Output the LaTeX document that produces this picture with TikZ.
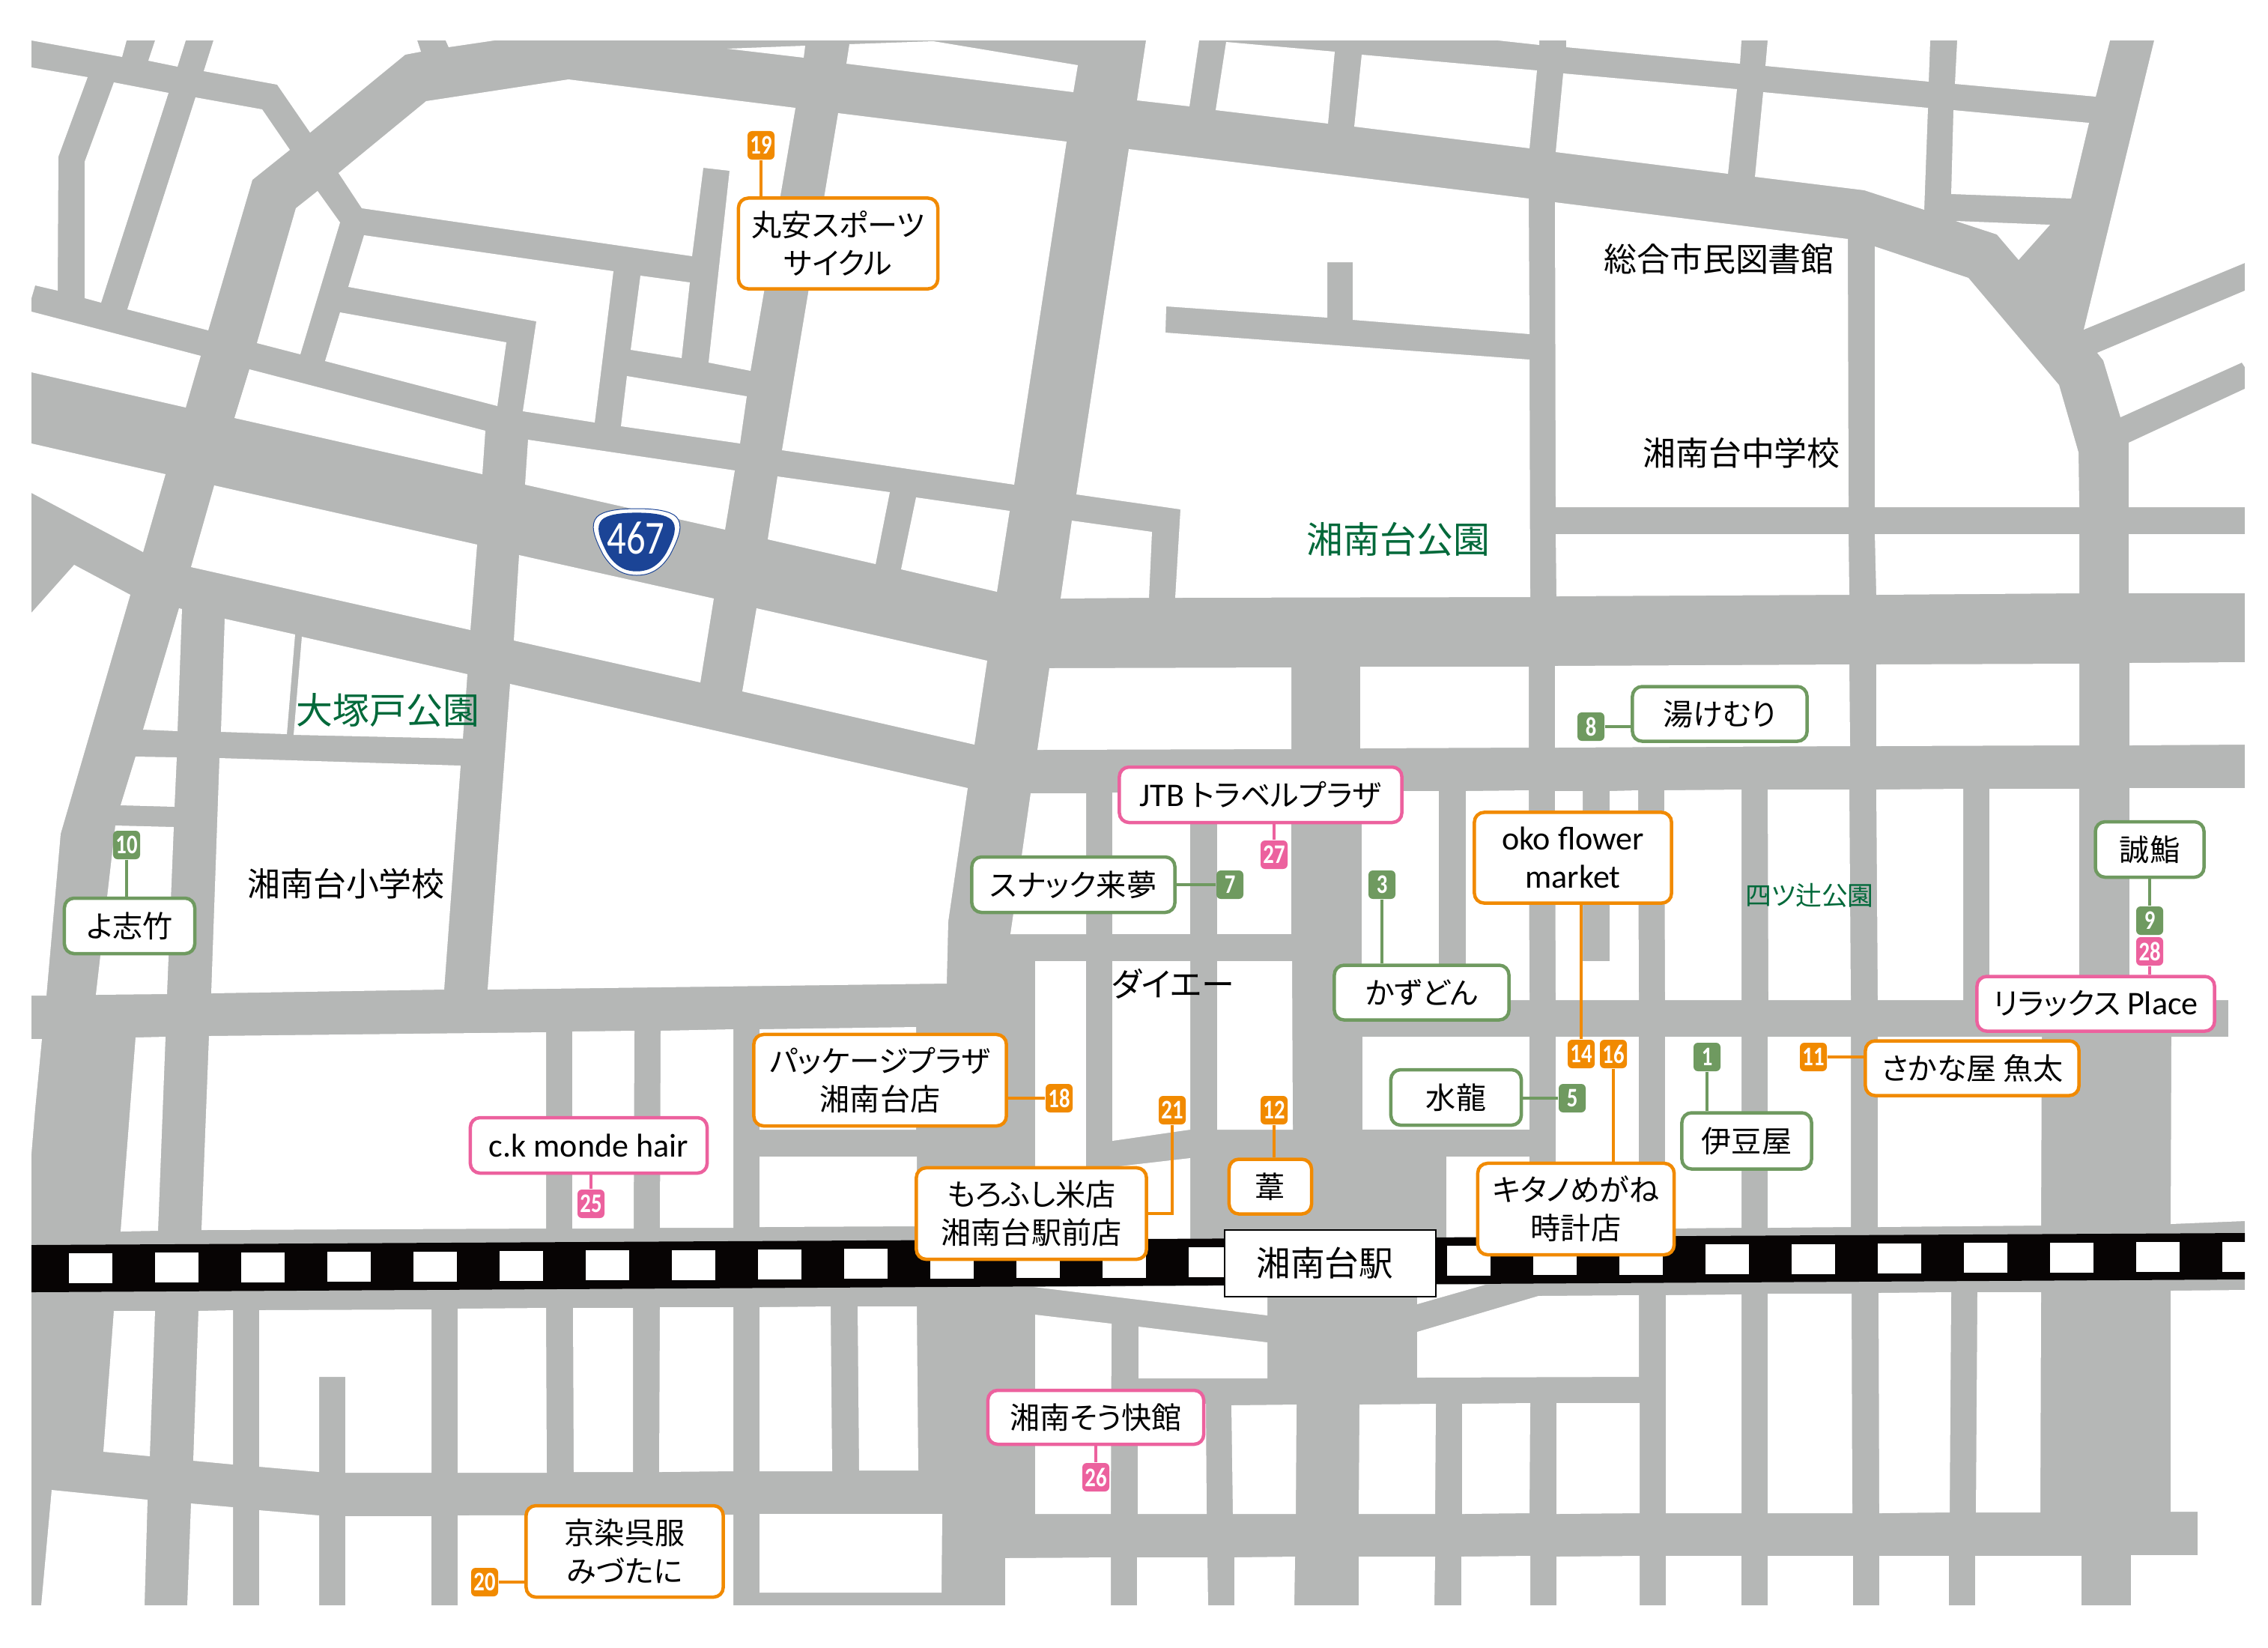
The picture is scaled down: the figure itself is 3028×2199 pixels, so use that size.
\documentclass[tikz,border=0pt]{standalone}
\usepackage{fontspec}
\setmainfont[RawFeature=+palt]{Noto Sans CJK JP}
\newfontfamily\lat[Scale=1.1]{Carlito}
\newfontfamily\numfont[FakeStretch=0.8]{Carlito}
\definecolor{roadgray}{HTML}{B5B7B6}
\definecolor{railblack}{HTML}{070404}
\definecolor{shoporange}{HTML}{F18A00}
\definecolor{shopgreen}{HTML}{6F9A60}
\definecolor{shoppink}{HTML}{EC619E}
\definecolor{parkgreen}{HTML}{00693A}
\definecolor{routeblue}{HTML}{1B4496}
\tikzset{
  block/.style={fill=white},
  shopbox/.style={draw, fill=white, rounded corners=0.13cm, line width=0.045cm, align=center, inner sep=0pt, font=\fontsize{11.4pt}{14.5pt}\selectfont},
  badge/.style={rounded corners=0.06cm, minimum width=0.36cm, minimum height=0.38cm, inner sep=0pt, text=white, font=\numfont\bfseries\fontsize{10.2pt}{10.5pt}\selectfont},
  orangebox/.style={shopbox, draw=shoporange},
  greenbox/.style={shopbox, draw=shopgreen},
  pinkbox/.style={shopbox, draw=shoppink},
  orangenum/.style={badge, fill=shoporange},
  greennum/.style={badge, fill=shopgreen},
  pinknum/.style={badge, fill=shoppink},
  orangelink/.style={draw=shoporange, line width=0.035cm},
  greenlink/.style={draw=shopgreen, line width=0.035cm},
  pinklink/.style={draw=shoppink, line width=0.035cm},
  landmark/.style={inner sep=0pt, font=\fontsize{12.5pt}{14pt}\selectfont},
  parkname/.style={inner sep=0pt, text=parkgreen, font=\fontsize{13.9pt}{15pt}\selectfont}
}
\newcommand{\shieldpath}{(850,679) .. controls (875,679) and (895,682) .. (903,690) .. controls (912,700) and (908,715) .. (895,740) .. controls (880,765) and (862,768) .. (850,768) .. controls (838,768) and (820,765) .. (805,740) .. controls (792,715) and (788,700) .. (797,690) .. controls (805,682) and (825,679) .. (850,679) -- cycle}
\begin{document}
\begin{tikzpicture}[x=0.01cm, y=-0.01cm]
    \useasboundingbox (0,0) rectangle (3028,2199);
    \fill[roadgray] (42,54) rectangle (2997,2143);
    % top edge
    \fill[block] (42,54) -- (163,76) -- (169,54) -- cycle;
    \fill[block] (207,54) -- (198,81) -- (237,89) -- (248,54) -- cycle;
    \fill[block] (285,54) -- (272,95) -- (370,113) -- (414,177) -- (541,73) -- (562,69) -- (557,54) -- cycle;
    \fill[block] (599,63) -- (660,54) -- (595,54) -- cycle;
    \fill[block] (971,65) -- (1075,61) -- (1073,77) -- cycle;
    \fill[block] (1134,59) -- (1246,55) -- (1439,87) -- (1433,123) -- (1130,85) -- cycle;
    \fill[block] (1530,54) -- (1518,134) -- (1588,142) -- (1601,54) -- cycle;
    \fill[block] (1637,56) -- (1782,69) -- (1773,165) -- (1623,147) -- cycle;
    \fill[block] (1818,73) -- (2052,94) -- (2042,198) -- (1808,169) -- cycle;
    \fill[block] (2000,54) -- (2055,60) -- (2055,54) -- cycle;
    \fill[block] (2091,54) -- (2091,63) -- (2323,85) -- (2325,54) -- cycle;
    \fill[block] (2360,54) -- (2357,88) -- (2575,109) -- (2577,54) -- cycle;
    \fill[block] (2613,54) -- (2610,112) -- (2798,129) -- (2817,54) -- cycle;
    \fill[block] (2087,98) -- (2319,119) -- (2307,232) -- (2077,203) -- cycle;
    \fill[block] (2354,123) -- (2574,144) -- (2569,280) -- (2489,254) -- (2343,236) -- cycle;
    \fill[block] (2608,147) -- (2789,164) -- (2765,265) -- (2605,259) -- cycle;
    \fill[block] (2611,295) -- (2737,300) -- (2695,347) -- (2666,313) -- cycle;
    \fill[block] (2876,54) -- (2782,440) -- (2997,351) -- (2997,54) -- cycle;
    \fill[block] (2800,471) -- (2808,481) -- (2831,557) -- (2993,484) -- (2997,490) -- (2997,388) -- cycle;
    \fill[block] (2842,591) -- (2997,519) -- (2997,677) -- (2842,677) -- cycle;
    \fill[block] (2503,329) -- (2628,371) -- (2749,514) -- (2775,604) -- (2776,677) -- (2503,677) -- cycle;
    \fill[block] (2076,270) -- (2467,319) -- (2468,677) -- (2077,677) -- cycle;
    % upper left
    \fill[block] (42,90) -- (117,103) -- (78,209) -- (77,388) -- (47,381) -- (42,398) -- cycle;
    \fill[block] (152,110) -- (225,124) -- (135,404) -- (113,398) -- (113,216) -- cycle;
    \fill[block] (261,130) -- (350,146) -- (387,200) -- (337,240) -- (278,441) -- (170,413) -- cycle;
    \fill[block] (395,278) -- (424,255) -- (454,297) -- (401,473) -- (343,458) -- cycle;
    \fill[block] (569,135) -- (759,106) -- (1062,144) -- (1002,495) -- (946,484) -- (974,228) -- (939,224) -- (924,342) -- (483,278) -- (452,231) -- cycle;
    \fill[block] (486,314) -- (819,362) -- (794,564) -- (698,549) -- (716,429) -- (465,383) -- cycle;
    \fill[block] (454,417) -- (676,457) -- (664,542) -- (434,482) -- cycle;
    \fill[block] (855,368) -- (921,377) -- (910,478) -- (842,467) -- cycle;
    \fill[block] (837,502) -- (997,529) -- (988,592) -- (829,569) -- cycle;
    \fill[block] (705,587) -- (981,628) -- (968,707) -- (701,647) -- cycle;
    \fill[block] (42,416) -- (268,475) -- (248,544) -- (42,497) -- cycle;
    \fill[block] (333,493) -- (648,575) -- (644,633) -- (313,558) -- cycle;
    \fill[block] (42,592) -- (221,633) -- (191,737) -- (42,658) -- cycle;
    \fill[block] (42,818) -- (99,754) -- (174,794) -- (81,1113) -- (62,1329) -- (42,1329) -- cycle;
    \fill[block] (42,1387) -- (56,1387) -- (47,1480) -- (42,1540) -- cycle;
    \fill[block] (286,648) -- (637,727) -- (628,841) -- (255,757) -- cycle;
    \fill[block] (693,741) -- (953,799) -- (935,911) -- (686,855) -- cycle;
    \fill[block] (1038,636) -- (1188,657) -- (1169,753) -- (1025,720) -- cycle;
    \fill[block] (1223,664) -- (1348,682) -- (1331,790) -- (1203,760) -- cycle;
    \fill[block] (1119,151) -- (1424,189) -- (1354,647) -- (1044,601) -- cycle;
    \fill[block] (1431,695) -- (1538,710) -- (1534,798) -- (1416,799) -- cycle;
    \fill[block] (1507,199) -- (2041,265) -- (2042,446) -- (1806,427) -- (1806,350) -- (1772,350) -- (1772,424) -- (1557,409) -- (1556,444) -- (2042,480) -- (2043,797) -- (1569,798) -- (1576,680) -- (1437,660) -- cycle;
    % right of the park
    \fill[block] (2077,713) -- (2468,713) -- (2469,794) -- (2078,796) -- cycle;
    \fill[block] (2503,713) -- (2776,713) -- (2776,792) -- (2505,794) -- cycle;
    \fill[block] (2842,713) -- (2997,713) -- (2997,792) -- (2842,792) -- cycle;
    \fill[block] (1401,892) -- (1724,891) -- (1724,1000) -- (1385,1001) -- cycle;
    \fill[block] (1816,890) -- (2041,890) -- (2041,998) -- (1816,999) -- cycle;
    \fill[block] (2076,889) -- (2469,887) -- (2470,996) -- (2076,998) -- cycle;
    \fill[block] (2505,887) -- (2776,886) -- (2776,995) -- (2505,996) -- cycle;
    \fill[block] (2843,885) -- (2997,884) -- (2997,994) -- (2843,995) -- cycle;
    % school area
    \fill[block] (1010,812) -- (1318,882) -- (1301,994) -- (991,923) -- cycle;
    \fill[block] (681,913) -- (1292,1052) -- (1266,1230) -- (1264,1313) -- (651,1321) -- cycle;
    \fill[block] (293,1012) -- (615,1022) -- (593,1321) -- (282,1326) -- cycle;
    \fill[block] (300,826) -- (394,847) -- (383,980) -- (295,977) -- cycle;
    \fill[block] (403,850) -- (624,900) -- (618,986) -- (392,981) -- cycle;
    \fill[block] (239,812) -- (243,813) -- (237,976) -- (191,974) -- cycle;
    \fill[block] (181,1010) -- (236,1011) -- (233,1077) -- (161,1075) -- cycle;
    \fill[block] (154,1102) -- (232,1104) -- (223,1327) -- (128,1328) -- cycle;
    % above the rail
    \fill[block] (181,1385) -- (221,1384) -- (211,1643) -- (161,1644) -- cycle;
    \fill[block] (279,1383) -- (729,1378) -- (729,1640) -- (269,1642) -- cycle;
    \fill[block] (764,1377) -- (847,1376) -- (846,1640) -- (764,1640) -- cycle;
    \fill[block] (882,1376) -- (979,1374) -- (979,1639) -- (881,1639) -- cycle;
    \fill[block] (1014,1374) -- (1223,1371) -- (1223,1508) -- (1014,1508) -- cycle;
    \fill[block] (1014,1544) -- (1224,1544) -- (1224,1637) -- (1014,1638) -- cycle;
    \fill[block] (1382,1283) -- (1450,1283) -- (1450,1638) -- (1382,1638) -- cycle;
    \fill[block] (1485,1283) -- (1589,1283) -- (1589,1508) -- (1485,1523) -- cycle;
    \fill[block] (1625,1283) -- (1725,1283) -- (1726,1508) -- (1625,1508) -- cycle;
    \fill[block] (1485,1558) -- (1589,1546) -- (1589,1660) -- (1485,1660) -- cycle;
    \fill[block] (1819,1384) -- (2042,1384) -- (2042,1508) -- (1819,1508) -- cycle;
    \fill[block] (1931,1544) -- (2042,1544) -- (2042,1660) -- (1931,1660) -- cycle;
    \fill[block] (1376,1059) -- (1450,1059) -- (1450,1247) -- (1349,1247) -- cycle;
    \fill[block] (1485,1058) -- (1589,1058) -- (1589,1247) -- (1485,1247) -- cycle;
    \fill[block] (1625,1057) -- (1724,1057) -- (1724,1247) -- (1625,1247) -- cycle;
    \fill[block] (1818,1056) -- (1921,1056) -- (1921,1335) -- (1818,1335) -- cycle;
    \fill[block] (1957,1056) -- (2041,1055) -- (2042,1335) -- (1957,1335) -- cycle;
    \fill[block] (2076,1056) -- (2113,1056) -- (2113,1283) -- (2149,1283) -- (2149,1056) -- (2187,1055) -- (2188,1335) -- (2077,1335) -- cycle;
    \fill[block] (2222,1055) -- (2325,1054) -- (2325,1335) -- (2223,1335) -- cycle;
    \fill[block] (2360,1054) -- (2469,1054) -- (2471,1335) -- (2361,1335) -- cycle;
    \fill[block] (2505,1054) -- (2621,1053) -- (2621,1335) -- (2507,1335) -- cycle;
    \fill[block] (2656,1053) -- (2776,1053) -- (2776,1335) -- (2656,1335) -- cycle;
    \fill[block] (2843,1052) -- (2997,1052) -- (2997,1630) -- (2898,1634) -- (2899,1384) -- (2975,1384) -- (2975,1335) -- (2843,1335) -- cycle;
    \fill[block] (2077,1384) -- (2188,1384) -- (2188,1640) -- (2077,1640) -- cycle;
    \fill[block] (2223,1384) -- (2325,1384) -- (2325,1639) -- (2223,1640) -- cycle;
    \fill[block] (2360,1384) -- (2471,1384) -- (2471,1638) -- (2360,1639) -- cycle;
    \fill[block] (2507,1384) -- (2726,1384) -- (2725,1636) -- (2507,1638) -- cycle;
    % below the rail
    \fill[block] (1892,1741) -- (1983,1715) -- (1892,1715) -- cycle;
    \fill[block] (1892,1778) -- (2054,1730) -- (2188,1729) -- (2188,1838) -- (1892,1839) -- cycle;
    \fill[block] (2224,1729) -- (2325,1728) -- (2325,2020) -- (2224,2020) -- cycle;
    \fill[block] (2360,1727) -- (2472,1727) -- (2473,2020) -- (2360,2020) -- cycle;
    \fill[block] (2508,1726) -- (2605,1725) -- (2603,2019) -- (2509,2020) -- cycle;
    \fill[block] (2640,1725) -- (2725,1725) -- (2724,2019) -- (2638,2019) -- cycle;
    \fill[block] (2898,1723) -- (2997,1722) -- (2997,2143) -- (2845,2143) -- (2845,2076) -- (2934,2076) -- (2934,2018) -- (2898,2018) -- cycle;
    \fill[block] (2078,1873) -- (2189,1873) -- (2189,2020) -- (2078,2021) -- cycle;
    \fill[block] (1952,1874) -- (2043,1873) -- (2042,2020) -- (1952,2021) -- cycle;
    \fill[block] (1815,1875) -- (1917,1874) -- (1916,2021) -- (1814,2021) -- cycle;
    \fill[block] (1644,1876) -- (1731,1875) -- (1730,2021) -- (1646,2021) -- cycle;
    \fill[block] (1519,1874) -- (1610,1874) -- (1611,2021) -- (1519,2021) -- cycle;
    \fill[block] (1382,1755) -- (1484,1767) -- (1483,2021) -- (1382,2021) -- cycle;
    \fill[block] (1520,1771) -- (1692,1792) -- (1692,1840) -- (1520,1840) -- cycle;
    \fill[block] (1380,1718) -- (1692,1756) -- (1692,1716) -- cycle;
    \fill[block] (1014,1745) -- (1109,1744) -- (1111,1964) -- (1014,1964) -- cycle;
    \fill[block] (1145,1744) -- (1224,1744) -- (1226,1963) -- (1147,1963) -- cycle;
    \fill[block] (1014,2021) -- (1258,2021) -- (1257,2126) -- (1014,2126) -- cycle;
    \fill[block] (152,1750) -- (207,1750) -- (200,1944) -- (138,1938) -- cycle;
    \fill[block] (265,1750) -- (311,1749) -- (311,1955) -- (258,1950) -- cycle;
    \fill[block] (346,1749) -- (576,1748) -- (576,1966) -- (461,1966) -- (461,1838) -- (426,1838) -- (426,1965) -- (346,1958) -- cycle;
    \fill[block] (611,1747) -- (729,1746) -- (730,1966) -- (611,1966) -- cycle;
    \fill[block] (765,1746) -- (845,1746) -- (845,1965) -- (766,1965) -- cycle;
    \fill[block] (881,1745) -- (979,1745) -- (979,1964) -- (880,1965) -- cycle;
    % bottom edge
    \fill[block] (69,1989) -- (197,2002) -- (193,2143) -- (55,2143) -- cycle;
    \fill[block] (255,2007) -- (311,2012) -- (311,2143) -- (250,2143) -- cycle;
    \fill[block] (346,2016) -- (426,2023) -- (426,2143) -- (346,2143) -- cycle;
    \fill[block] (461,2024) -- (576,2024) -- (576,2143) -- (461,2143) -- cycle;
    \fill[block] (611,2023) -- (979,2022) -- (979,2143) -- (611,2143) -- cycle;
    \fill[block] (1342,2080) -- (1483,2079) -- (1483,2143) -- (1342,2143) -- cycle;
    \fill[block] (1518,2079) -- (1612,2079) -- (1613,2143) -- (1518,2143) -- cycle;
    \fill[block] (1648,2079) -- (1729,2078) -- (1728,2143) -- (1648,2143) -- cycle;
    \fill[block] (1814,2078) -- (1916,2078) -- (1915,2143) -- (1814,2143) -- cycle;
    \fill[block] (1951,2078) -- (2043,2077) -- (2043,2143) -- (1951,2143) -- cycle;
    \fill[block] (2078,2078) -- (2189,2077) -- (2189,2143) -- (2078,2143) -- cycle;
    \fill[block] (2224,2077) -- (2325,2077) -- (2325,2143) -- (2224,2143) -- cycle;
    \fill[block] (2360,2077) -- (2474,2077) -- (2474,2143) -- (2360,2143) -- cycle;
    \fill[block] (2509,2077) -- (2602,2077) -- (2602,2143) -- (2509,2143) -- cycle;
    \fill[block] (2637,2077) -- (2779,2077) -- (2779,2143) -- (2637,2143) -- cycle;
    % rail
    \fill[railblack] (42,1662) -- (2997,1646) -- (2997,1708) -- (42,1725) -- cycle;
    \foreach \k in {0,...,25}
        \fill[white] ({92+115*\k},{1673-0.62*\k}) rectangle ++(58,40);
    % route sign
    \draw[fill=white, draw=routeblue, line width=0.01cm] \shieldpath;
    \fill[routeblue, scale around={0.88:(850,724)}] \shieldpath;
    \node[inner sep=0pt, text=white, font=\numfont\fontsize{18pt}{19pt}\selectfont] (route) at (849,718) {467};
    % place names
    \node[draw=black, fill=white, line width=0.02cm, minimum width=2.81cm, minimum height=0.89cm, inner sep=0pt, font=\fontsize{13pt}{14pt}\selectfont] (station) at (1776,1686) {\kern-4pt湘南台駅};
    \node[landmark] (elem) at (462,1180) {湘南台小学校};
    \node[landmark] (library) at (2295,346) {総合市民図書館};
    \node[landmark] (junior) at (2325,605) {湘南台中学校};
    \node[landmark] (daiei) at (1566,1313) {ダイエー};
    \node[parkname] (otsukado) at (518,948) {大塚戸公園};
    \node[parkname] (shonanpark) at (1867,720) {湘南台公園};
    \node[parkname, font=\fontsize{9.9pt}{11pt}\selectfont] (yotsutsuji) at (2416,1195) {四ツ辻公園};
    % orange shops
    \node[orangebox, minimum width=2.66cm, minimum height=1.21cm] (maruyasu) at (1119,325) {丸安スポーツ\\サイクル};
    \node[orangebox, minimum width=2.63cm, minimum height=1.21cm] (oko) at (2100,1145) {{\lat oko flower}\\{\lat market}};
    \node[orangebox, minimum width=2.62cm, minimum height=1.22cm] (kitano) at (2104,1614) {キタノめがね\\時計店};
    \node[orangebox, minimum width=2.85cm, minimum height=0.73cm] (sakanaya) at (2633,1426) {さかな屋 魚太};
    \node[orangebox, minimum width=3.37cm, minimum height=1.22cm] (package) at (1175,1442) {パッケージプラザ\\湘南台店};
    \node[orangebox, minimum width=3.07cm, minimum height=1.22cm] (morofushi) at (1377,1620) {もろふし米店\\湘南台駅前店};
    \node[orangebox, minimum width=1.10cm, minimum height=0.73cm] (ashi) at (1696,1584) {葦};
    \node[orangebox, minimum width=2.63cm, minimum height=1.22cm] (kyozome) at (834,2071) {京染呉服\\みづたに};
    \node[orangenum] (n19) at (1016,194) {19};
    \node[orangenum] (n14) at (2111,1407) {14};
    \node[orangenum] (n16) at (2154,1407) {16};
    \node[orangenum] (n11) at (2421,1411) {11};
    \node[orangenum] (n18) at (1414,1466) {18};
    \node[orangenum] (n21) at (1565,1482) {21};
    \node[orangenum] (n12) at (1701,1482) {12};
    \node[orangenum] (n20) at (647,2112) {20};
    \draw[orangelink] (n19) -- (n19 |- maruyasu.north);
    \draw[orangelink] (n14) -- (n14 |- oko.south);
    \draw[orangelink] (n16) -- (n16 |- kitano.north);
    \draw[orangelink] (n11) -- (n11 -| sakanaya.west);
    \draw[orangelink] (n18) -- (n18 -| package.east);
    \draw[orangelink] (n21) |- (morofushi.east);
    \draw[orangelink] (n12) -- (n12 |- ashi.north);
    \draw[orangelink] (n20) -- (n20 -| kyozome.west);
    % green shops
    \node[greenbox, minimum width=1.74cm, minimum height=0.74cm] (yoshitake) at (173,1236) {よ志竹};
    \node[greenbox, minimum width=2.71cm, minimum height=0.74cm] (snack) at (1433,1181) {スナック来夢};
    \node[greenbox, minimum width=2.33cm, minimum height=0.73cm] (kazudon) at (1898,1325) {かずどん};
    \node[greenbox, minimum width=2.33cm, minimum height=0.73cm] (yukemuri) at (2296,953) {湯けむり};
    \node[greenbox, minimum width=1.45cm, minimum height=0.74cm] (seizushi) at (2870,1134) {誠鮨};
    \node[greenbox, minimum width=1.73cm, minimum height=0.75cm] (izuya) at (2332,1523) {伊豆屋};
    \node[greenbox, minimum width=1.74cm, minimum height=0.74cm] (suiryu) at (1944,1465) {水龍};
    \node[greennum] (n10) at (169,1128) {10};
    \node[greennum] (n7) at (1642,1181) {7};
    \node[greennum] (n3) at (1845,1181) {3};
    \node[greennum] (n8) at (2124,970) {8};
    \node[greennum] (n9) at (2870,1229) {9};
    \node[greennum] (n1) at (2279,1411) {1};
    \node[greennum] (n5) at (2099,1466) {5};
    \draw[greenlink] (n10) -- (n10 |- yoshitake.north);
    \draw[greenlink] (n7) -- (n7 -| snack.east);
    \draw[greenlink] (n3) -- (n3 |- kazudon.north);
    \draw[greenlink] (n8) -- (n8 -| yukemuri.west);
    \draw[greenlink] (n9) -- (n9 |- seizushi.south);
    \draw[greenlink] (n1) -- (n1 |- izuya.north);
    \draw[greenlink] (n5) -- (n5 -| suiryu.east);
    % pink shops
    \node[pinkbox, minimum width=3.77cm, minimum height=0.74cm] (jtb) at (1683,1061) {{\lat JTB} トラベルプラザ};
    \node[pinkbox, minimum width=3.17cm, minimum height=0.73cm] (relax) at (2798,1340) {リラックス {\lat Place}};
    \node[pinkbox, minimum width=3.16cm, minimum height=0.74cm] (ckmonde) at (786,1529) {\lat c.k monde hair};
    \node[pinkbox, minimum width=2.88cm, minimum height=0.72cm] (kaikan) at (1463,1892) {湘南そう快館};
    \node[pinknum] (n27) at (1701,1141) {27};
    \node[pinknum] (n28) at (2870,1270) {28};
    \node[pinknum] (n25) at (789,1607) {25};
    \node[pinknum] (n26) at (1463,1972) {26};
    \draw[pinklink] (n27) -- (n27 |- jtb.south);
    \draw[pinklink] (n28) -- (n28 |- relax.north);
    \draw[pinklink] (n25) -- (n25 |- ckmonde.south);
    \draw[pinklink] (n26) -- (n26 |- kaikan.south);
\end{tikzpicture}
\end{document}
